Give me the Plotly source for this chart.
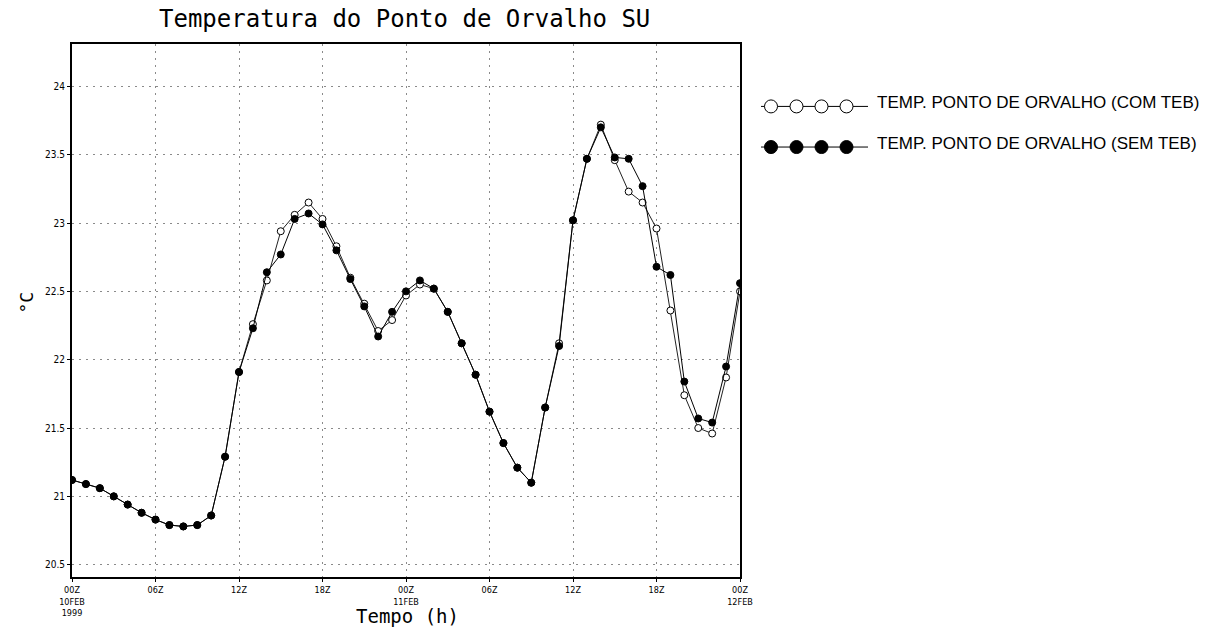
import plotly.graph_objects as go

hours = list(range(0, 49))
sem_teb = [21.12, 21.09, 21.06, 21.00, 20.94, 20.88, 20.83, 20.79, 20.78, 20.79,
           20.86, 21.29, 21.91, 22.23, 22.64, 22.77, 23.03, 23.07, 22.99, 22.80,
           22.59, 22.39, 22.17, 22.35, 22.50, 22.58, 22.52, 22.35, 22.12, 21.89,
           21.62, 21.39, 21.21, 21.10, 21.65, 22.10, 23.02, 23.47, 23.70, 23.48,
           23.47, 23.27, 22.68, 22.62, 21.84, 21.57, 21.54, 21.95, 22.56]
com_teb = [21.12, 21.09, 21.06, 21.00, 20.94, 20.88, 20.83, 20.79, 20.78, 20.79,
           20.86, 21.29, 21.91, 22.26, 22.58, 22.94, 23.06, 23.15, 23.03, 22.83,
           22.60, 22.41, 22.21, 22.29, 22.47, 22.55, 22.52, 22.35, 22.12, 21.89,
           21.62, 21.39, 21.21, 21.10, 21.65, 22.12, 23.02, 23.47, 23.72, 23.46,
           23.23, 23.15, 22.96, 22.36, 21.74, 21.50, 21.46, 21.87, 22.50]

x_tickvals = [0, 6, 12, 18, 24, 30, 36, 42, 48]
x_ticktext = ["00Z<br>10FEB<br>1999", "06Z", "12Z", "18Z", "00Z<br>11FEB", "06Z", "12Z", "18Z", "00Z<br>12FEB"]
y_tickvals = [20.5, 21, 21.5, 22, 22.5, 23, 23.5, 24]
y_ticktext = ["20.5", "21", "21.5", "22", "22.5", "23", "23.5", "24"]

legend_labels = ["TEMP. PONTO DE ORVALHO (COM TEB)", "TEMP. PONTO DE ORVALHO (SEM TEB)"]

W, H = 1217, 630
L, R, T, B = 72, 740, 44, 582

fig = go.Figure()
fig.add_trace(go.Scatter(x=hours, y=com_teb, mode="lines+markers",
                         line=dict(color="#222222", width=1),
                         marker=dict(symbol="circle", size=7, color="white",
                                     line=dict(color="black", width=1)),
                         showlegend=False, name=legend_labels[0]))
fig.add_trace(go.Scatter(x=hours, y=sem_teb, mode="lines+markers",
                         line=dict(color="black", width=1),
                         marker=dict(symbol="circle", size=7, color="black",
                                     line=dict(color="black", width=1)),
                         showlegend=False, name=legend_labels[1]))

def px_to_paper_x(px):
    return (px - L) / (R - L)

def px_to_paper_y(py):
    return (B - py) / (B - T)

shapes = []
annotations = []
leg_rows = [(107, "white"), (148, "black")]
for (py, fillc), lab in zip(leg_rows, legend_labels):
    shapes.append(dict(type="line", xref="paper", yref="paper",
                       x0=px_to_paper_x(761), x1=px_to_paper_x(868),
                       y0=px_to_paper_y(py), y1=px_to_paper_y(py),
                       line=dict(color="black", width=1)))
    for cx in [771, 796.5, 821.5, 846.5]:
        shapes.append(dict(type="circle", xref="paper", yref="paper",
                           xsizemode="pixel", ysizemode="pixel",
                           xanchor=px_to_paper_x(cx), yanchor=px_to_paper_y(py),
                           x0=-6.5, x1=6.5, y0=-6.5, y1=6.5,
                           fillcolor=fillc, line=dict(color="black", width=1)))
    annotations.append(dict(text=lab, xref="paper", yref="paper",
                            x=px_to_paper_x(875), y=px_to_paper_y(py - 4),
                            xanchor="left", yanchor="middle", showarrow=False,
                            font=dict(family="Liberation Sans, Arial", size=17, color="black")))

annotations.append(dict(text="Temperatura do Ponto de Orvalho SU", xref="paper", yref="paper",
                        x=px_to_paper_x(404), y=px_to_paper_y(19), xanchor="center", yanchor="middle",
                        showarrow=False, font=dict(family="DejaVu Sans Mono", size=24, color="black")))
annotations.append(dict(text="Tempo (h)", xref="paper", yref="paper",
                        x=px_to_paper_x(407), y=px_to_paper_y(621), xanchor="center", yanchor="middle",
                        showarrow=False, font=dict(family="DejaVu Sans Mono", size=19, color="black")))
annotations.append(dict(text="°C", xref="paper", yref="paper", textangle=-90,
                        x=px_to_paper_x(27), y=px_to_paper_y(305), xanchor="center", yanchor="middle",
                        showarrow=False, font=dict(family="DejaVu Sans Mono", size=18, color="black")))

fig.update_layout(
    width=W, height=H,
    margin=dict(l=L, r=W - R, t=T, b=H - B),
    paper_bgcolor="white", plot_bgcolor="white",
    shapes=shapes, annotations=annotations,
    showlegend=False,
)
fig.update_xaxes(range=[0, 48], tickvals=x_tickvals, ticktext=x_ticktext,
                 showgrid=True, gridcolor="#8a8a8a", griddash="2px,5px", gridwidth=1,
                 showline=True, linecolor="black", linewidth=2, mirror=True,
                 ticks="outside", ticklen=3, tickcolor="black",
                 tickfont=dict(family="DejaVu Sans Condensed, DejaVu Sans", size=9, color="black"),
                 zeroline=False)
fig.update_yaxes(range=[20.41, 24.31], tickvals=y_tickvals, ticktext=y_ticktext,
                 showgrid=True, gridcolor="#8a8a8a", griddash="2px,5px", gridwidth=1,
                 showline=True, linecolor="black", linewidth=2, mirror=True,
                 ticks="outside", ticklen=3, tickcolor="black",
                 tickfont=dict(family="DejaVu Sans Condensed, DejaVu Sans", size=10, color="black"),
                 zeroline=False)

fig.write_html("out.html")
